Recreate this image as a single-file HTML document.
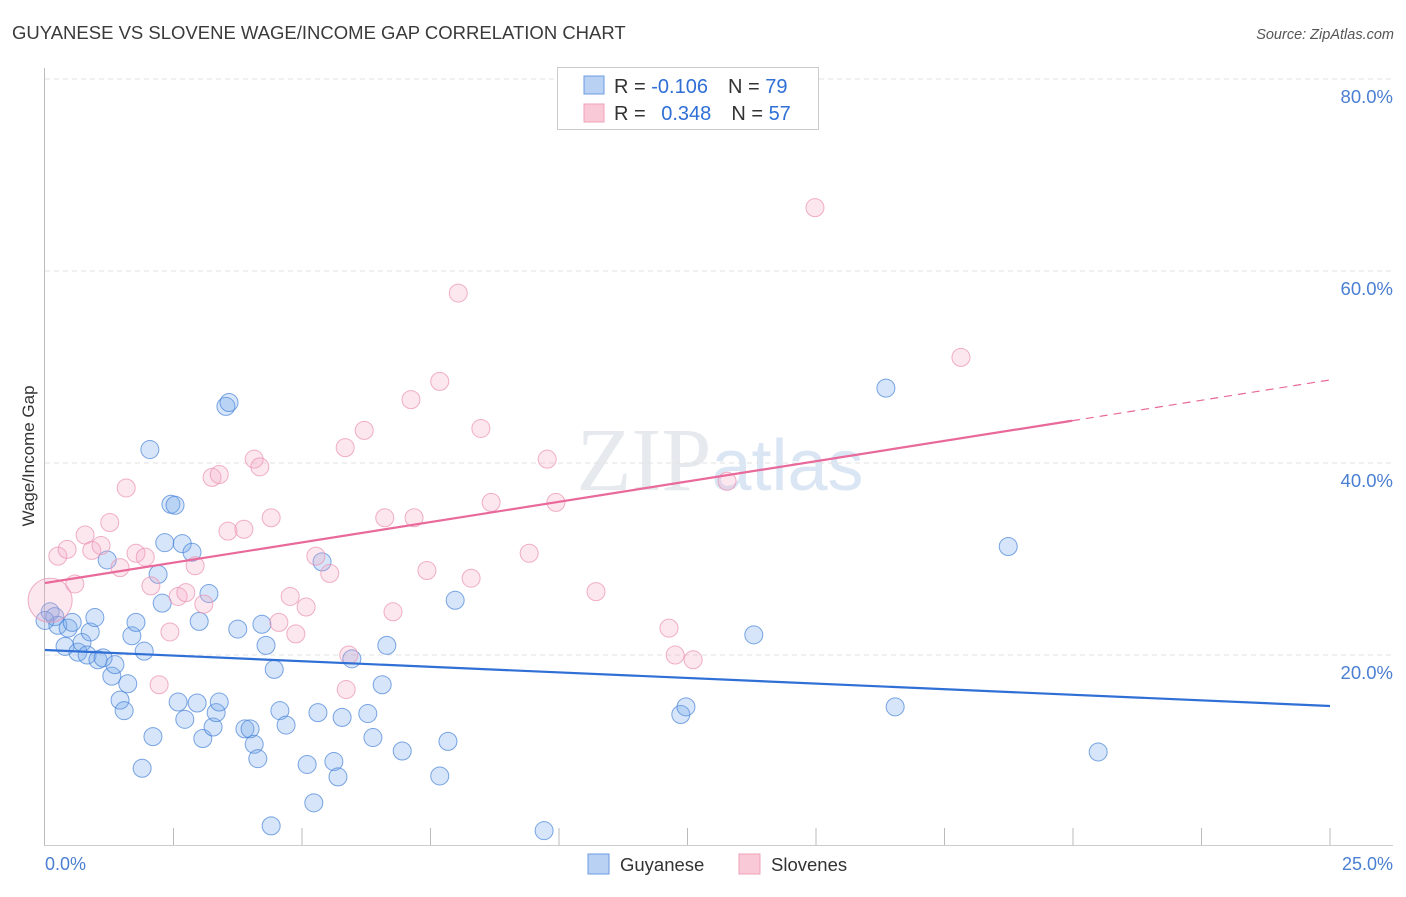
<!DOCTYPE html>
<html><head><meta charset="utf-8"><style>
body{margin:0;background:#fff;font-family:"Liberation Sans",sans-serif;}
</style></head><body>
<svg width="1406" height="892" xmlns="http://www.w3.org/2000/svg" font-family="Liberation Sans, sans-serif">
<text x="12" y="39" font-size="18.5" fill="#3a3a3a">GUYANESE VS SLOVENE WAGE/INCOME GAP CORRELATION CHART</text>
<text x="1394" y="39" font-size="14.5" font-style="italic" fill="#555" text-anchor="end">Source: ZipAtlas.com</text>
<text x="720" y="490" font-size="90" fill="#e6e9ee" text-anchor="middle" font-family="Liberation Serif, serif">ZIP<tspan fill="#dbe6f4" font-family="Liberation Sans, sans-serif" font-size="72">atlas</tspan></text>
<g id="grid"></g>
<line x1="44.5" y1="68" x2="44.5" y2="845" stroke="#bbb"/>
<line x1="44" y1="845.5" x2="1393" y2="845.5" stroke="#ccc"/>
<g id="xticks"></g>
<text transform="translate(34,456) rotate(-90)" font-size="17" fill="#333" text-anchor="middle">Wage/Income Gap</text>
<text x="45" y="870" font-size="18" fill="#4a7fd1">0.0%</text>
<text x="1393" y="870" font-size="18" fill="#4a7fd1" text-anchor="end">25.0%</text>
<g id="points"></g>
<g id="lines"></g>
<g>
<rect x="557.5" y="67.5" width="261" height="62" fill="#fff" stroke="#ccc"/>
<rect x="584" y="76" width="20" height="18" fill="#b9d2f3" stroke="#6b9be0"/>
<rect x="584" y="104" width="20" height="18" fill="#f9c9d7" stroke="#eea3b9"/>
<text x="614" y="93" font-size="20" fill="#333">R = <tspan fill="#2f6fd6">-0.106</tspan><tspan dx="20">N = </tspan><tspan fill="#2f6fd6">79</tspan></text>
<text x="614" y="120" font-size="20" fill="#333">R = <tspan fill="#2f6fd6" dx="10">0.348</tspan><tspan dx="20">N = </tspan><tspan fill="#2f6fd6">57</tspan></text>
</g>
<g>
<rect x="588" y="854" width="21" height="20" fill="#b9d2f3" stroke="#6b9be0"/>
<text x="620" y="871" font-size="18.5" fill="#333">Guyanese</text></g>
<g>
<rect x="739" y="854" width="21" height="20" fill="#f9c9d7" stroke="#eea3b9"/>
<text x="771" y="871" font-size="18.5" fill="#333">Slovenes</text></g>
</svg>
<script>
const yTicks=[20,40,60,80];
const guyX=[0.10,0.19,0.25,0.39,0.45,0.53,0.64,0.72,0.82,0.88,0.97,1.03,1.13,1.21,1.30,1.36,1.46,1.54,1.61,1.69,1.77,1.89,1.93,2.04,2.10,2.20,2.28,2.33,2.45,2.53,2.59,2.67,2.72,2.86,2.96,3.00,3.07,3.19,3.27,3.33,3.39,3.52,3.58,3.75,3.89,3.99,4.07,4.14,4.22,4.30,4.40,4.46,4.57,4.69,5.10,5.23,5.31,5.39,5.62,5.70,5.78,5.97,6.28,6.38,6.56,6.65,6.95,7.68,7.84,7.98,9.71,12.37,12.47,13.79,16.36,16.54,18.74,20.49,0.0];
const guyY=[24.5,24.0,23.1,20.9,22.8,23.4,20.3,21.3,20.0,22.4,23.9,19.5,19.7,29.9,17.8,19.0,15.3,14.2,17.0,22.0,23.4,8.2,20.4,41.4,11.5,28.4,25.4,31.7,35.7,35.6,15.1,31.6,13.3,30.7,15.0,23.5,11.3,26.4,12.5,14.0,15.1,45.9,46.3,22.7,12.3,12.3,10.7,9.2,23.2,21.0,2.2,18.5,14.2,12.7,8.6,4.6,14.0,29.7,8.9,7.3,13.5,19.6,13.9,11.4,16.9,21.0,10.0,7.4,11.0,25.7,1.7,13.8,14.6,22.1,47.8,14.6,31.3,9.9,23.6];
const sloX=[0.1,0.25,0.43,0.58,0.78,0.91,1.09,1.26,1.46,1.58,1.77,1.95,2.06,2.22,2.43,2.59,2.74,2.92,3.09,3.25,3.39,3.56,3.87,4.07,4.18,4.40,4.55,4.77,4.88,5.08,5.27,5.54,5.84,5.91,5.86,6.21,6.61,6.77,7.12,7.18,7.43,7.68,8.04,8.29,8.48,8.68,9.42,9.77,9.94,10.72,12.14,12.26,12.61,13.27,14.98,17.82];
const sloY=[25.7,30.3,31.0,27.4,32.5,30.9,31.4,33.8,29.1,37.4,30.6,30.2,27.2,16.9,22.4,26.1,26.5,29.3,25.3,38.5,38.8,32.9,33.1,40.4,39.6,34.3,23.4,26.1,22.2,25.0,30.3,28.5,41.6,20.0,16.4,43.4,34.3,24.5,46.6,34.3,28.8,48.5,57.7,28.0,43.6,35.9,30.6,40.4,35.9,26.6,22.8,20.0,19.5,38.1,66.6,51.0];
const guyTrend=[20.52,14.69];
const sloTrend=[27.5,48.65];
const sloSolidEnd=19.98;
const NS="http://www.w3.org/2000/svg";
const xs=v=>45+v*51.4, ys=v=>847-v*9.6;
function mk(t,a,p){const e=document.createElementNS(NS,t);for(const k in a)e.setAttribute(k,a[k]);document.getElementById(p).appendChild(e);return e;}
yTicks.forEach(t=>{
 const l=mk('line',{x1:45,x2:1393,y1:ys(t),y2:ys(t),stroke:'#e2e2e2','stroke-dasharray':'5,4'},'grid');
 
 
 const tx=mk('text',{x:1393,y:ys(t)+24,'font-size':18.5,fill:'#4a7fd1','text-anchor':'end'},'grid');
 tx.textContent=t.toFixed(1)+'%';
 
 
});
for(let i=1;i<=10;i++){const l=mk('line',{x1:xs(i*2.5),x2:xs(i*2.5),y1:828,y2:845,stroke:'#bbb'},'xticks');
 
 }
guyX.forEach((x,i)=>{const c=mk('circle',{cx:xs(x),cy:ys(guyY[i]),r:9,fill:'rgba(120,168,235,0.3)',stroke:'rgba(70,130,215,0.7)','stroke-width':1},'points');
 
 });
sloX.forEach((x,i)=>{const c=mk('circle',{cx:xs(x),cy:ys(sloY[i]),r:i==0?22:9,fill:'rgba(246,170,196,0.28)',stroke:'rgba(235,150,180,0.75)','stroke-width':1},'points');
 
 });
const b=mk('line',{x1:xs(0),y1:ys(guyTrend[0]),x2:xs(25),y2:ys(guyTrend[1]),stroke:'#2f6fd6','stroke-width':2.2},'lines');


const sy=sloTrend[0]+(sloTrend[1]-sloTrend[0])*sloSolidEnd/25;
const p=mk('line',{x1:xs(0),y1:ys(sloTrend[0]),x2:xs(sloSolidEnd),y2:ys(sy),stroke:'#e8699a','stroke-width':2.2},'lines');


const pd=mk('line',{x1:xs(sloSolidEnd),y1:ys(sy),x2:xs(25),y2:ys(sloTrend[1]),stroke:'#e8699a','stroke-width':1.2,'stroke-dasharray':'8,6'},'lines');


</script>
</body></html>
